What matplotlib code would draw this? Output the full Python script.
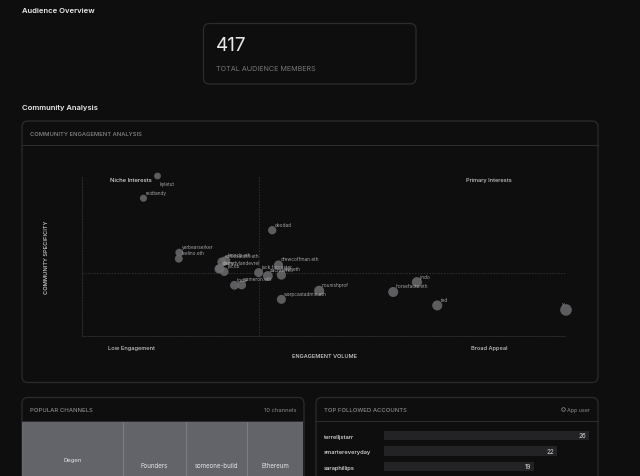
import matplotlib
matplotlib.use("Agg")
import matplotlib.pyplot as plt
from matplotlib.patches import FancyBboxPatch

plt.rcParams['font.family'] = ['Inter', 'DejaVu Sans']

# --- data ---
total_members = "417"
users = ["kyletut", "reidtandy", "yerbearserker", "leelino.eth", "deodad", "kmacb.eth",
         "sonicsaturn.eth", "garry", "clairedylandevrel", "jacob", "jack.farcaster", "zachterrell",
         "dwr.eth", "drewcoffman.eth", "linda", "cameron.eth", "nounishprof", "warpcastadmin.eth",
         "jindo", "horsefacts.eth", "ted", "v"]
engagement = [15.6, 12.7, 20.1, 20.0, 39.3, 29.7, 28.9, 28.5, 28.3, 29.4, 36.5, 38.4,
              41.2, 40.6, 31.5, 33.0, 49.0, 41.2, 69.2, 64.3, 73.4, 100.0]
specificity = [100.0, 86.1, 52.1, 48.3, 66.1, 47.2, 46.3, 42.2, 41.9, 40.2, 39.6, 37.5,
               38.1, 44.4, 31.7, 31.9, 28.3, 22.9, 33.6, 27.5, 19.1, 16.3]
point_sizes = [24, 26, 32, 32, 36, 42, 42, 42, 42, 38, 42, 50, 44, 42, 40, 40, 52, 42, 54, 52, 52, 70]
median_engagement = 36.6
median_specificity = 39.4

channels = ["Degen", "Founders", "someone-build", "Ethereum"]
channel_values = [101, 63, 61, 56]

accounts = ["terrelljstarr", "smartereveryday", "saraphillips"]
follows = [26, 22, 19]

# --- styles ---
BG = "#0e0e0f"
BORDER = "#2c2c2e"
W, H = 640, 477
LABEL_OFFSET = (1.7, 4.4)
SPECIAL_OFFSETS = {"kyletut": (1.7, -5.3), "v": (-3.1, 4.4)}

fig = plt.figure(figsize=(6.4, 4.77), dpi=100, facecolor=BG)

page = fig.add_axes([0, 0, 1, 1], zorder=0)
page.set_xlim(0, W)
page.set_ylim(H, 0)
page.axis("off")


def card(x0, y0, x1, y1, r=6):
    page.add_patch(FancyBboxPatch((x0 + r, y0 + r), x1 - x0 - 2 * r, y1 - y0 - 2 * r,
                                  boxstyle=f"round,pad={r},rounding_size={r}",
                                  fc=BG, ec=BORDER, lw=0.9, zorder=1))


def txt(x, y, s, size, color="#e6e6e6", ha="left", weight="normal", rot=0, zorder=6):
    page.text(x, y + 0.6, s, fontsize=size, color=color, ha=ha, va="center",
              fontweight=weight, rotation=rot, zorder=zorder)


# headings
txt(21.5, 10.5, "Audience Overview", 5.5, "#eeeeee", weight="semibold")
txt(21.5, 107, "Community Analysis", 5.5, "#eeeeee", weight="semibold")

# stat card
card(203.5, 24.5, 416, 85)
txt(215.5, 45.5, total_members, 13.6, "#e8e8e8")
txt(215.5, 68.5, "TOTAL AUDIENCE MEMBERS", 5.2, "#77777b")

# scatter card
card(22, 122, 598, 383.5)
page.plot([22, 598], [145.5, 145.5], color=BORDER, lw=0.8, zorder=2)
txt(29.5, 133.5, "COMMUNITY ENGAGEMENT ANALYSIS", 4.2, "#8a8a8d", weight="medium")

# scatter plot
sc = fig.add_axes([82 / W, 1 - 337 / H, 484 / W, 160 / H], zorder=3)
sc.patch.set_alpha(0)
sc.set_xlim(0, 100)
sc.set_ylim(0, 100)
for name, spine in sc.spines.items():
    spine.set_visible(name in ("left", "bottom"))
    spine.set_color("#2b2b2d")
    spine.set_linewidth(0.7)
    spine.set_linestyle((0, (1.5, 1.5)))
sc.set_xticks([])
sc.set_yticks([])
sc.axvline(median_engagement, color="#323234", lw=0.7, ls=(0, (1.5, 1.5)))
sc.axhline(median_specificity, color="#323234", lw=0.7, ls=(0, (1.5, 1.5)))
sc.scatter(engagement, specificity, s=point_sizes, color="#6c6c6f", alpha=0.85,
           linewidths=0, clip_on=False, zorder=3)
for name, x, y in zip(users, engagement, specificity):
    off = SPECIAL_OFFSETS.get(name, LABEL_OFFSET)
    sc.annotate(name, (x, y), xytext=off, textcoords="offset points", fontsize=3.45,
                color="#a4a4a6", annotation_clip=False, va="center", zorder=4)

txt(110, 179.5, "Niche Interests", 4.2, "#d8d8d8", weight="medium")
txt(466, 179.5, "Primary Interests", 4.05, "#c8c8c8", weight="medium")
txt(107.5, 347.5, "Low Engagement", 4.1, "#c8c8c8", weight="medium")
txt(471, 347.5, "Broad Appeal", 4.1, "#c8c8c8", weight="medium")
txt(324, 356, "ENGAGEMENT VOLUME", 4.0, "#d4d4d4", ha="center", weight="medium")
txt(46, 257, "COMMUNITY SPECIFICITY", 4.1, "#d4d4d4", ha="center", weight="medium", rot=90)

# popular channels card
card(22, 398.5, 304, 500)
page.plot([22, 304], [422, 422], color=BORDER, lw=0.8, zorder=2)
txt(29.5, 410, "POPULAR CHANNELS", 4.3, "#8a8a8d", weight="medium")
txt(296, 410, "10 channels", 4.2, "#8a8a8d", ha="right")

tm = fig.add_axes([22 / W, 0, 281 / W, 1 - 422.5 / H], zorder=3)
tm.axis("off")
tm.set_ylim(0, 1)
lefts = [sum(channel_values[:i]) for i in range(len(channel_values))]
tm.bar(lefts, [1] * len(channels), width=channel_values, align="edge",
       color="#62646a", edgecolor="#909195", linewidth=0.4)
tm.set_xlim(0, sum(channel_values))
for name, left, val, ypos in zip(channels, lefts, channel_values, [0.31, 0.2, 0.2, 0.2]):
    tm.text(left + val / 2, ypos, name, fontsize=4.3 if name == "Degen" else 4.45,
            color="#e4e4e4", ha="center", va="center")

# top followed accounts card
card(316, 398.5, 598, 500)
page.plot([316, 598], [422, 422], color=BORDER, lw=0.8, zorder=2)
txt(323.5, 410, "TOP FOLLOWED ACCOUNTS", 4.25, "#8a8a8d", weight="medium")
txt(590, 410, "App user", 3.9, "#8a8a8d", ha="right")
page.plot([562.7], [410.3], marker="o", ms=2.6, mfc="none", mec="#9a9a9c", mew=0.5, zorder=6)

ba = fig.add_axes([384 / W, 1 - 477 / H, 205 / W, 50 / H], zorder=3)
ba.axis("off")
ba.set_xlim(0, max(follows))
ba.set_ylim(50, 0)
ypos = [9.5 + r * 15.5 for r in range(len(accounts))]
ba.barh(ypos, follows, height=9.5, color="#232325", linewidth=0)
for y, name, v in zip(ypos, accounts, follows):
    txt(323.5, 427 + y, name, 4.2, "#e0e0e0", weight="medium")
    ba.text(v - 0.4, y, str(v), fontsize=4.5, color="#d8d8d8", ha="right", va="center")

fig.savefig("out.png", dpi=100, facecolor=BG)
